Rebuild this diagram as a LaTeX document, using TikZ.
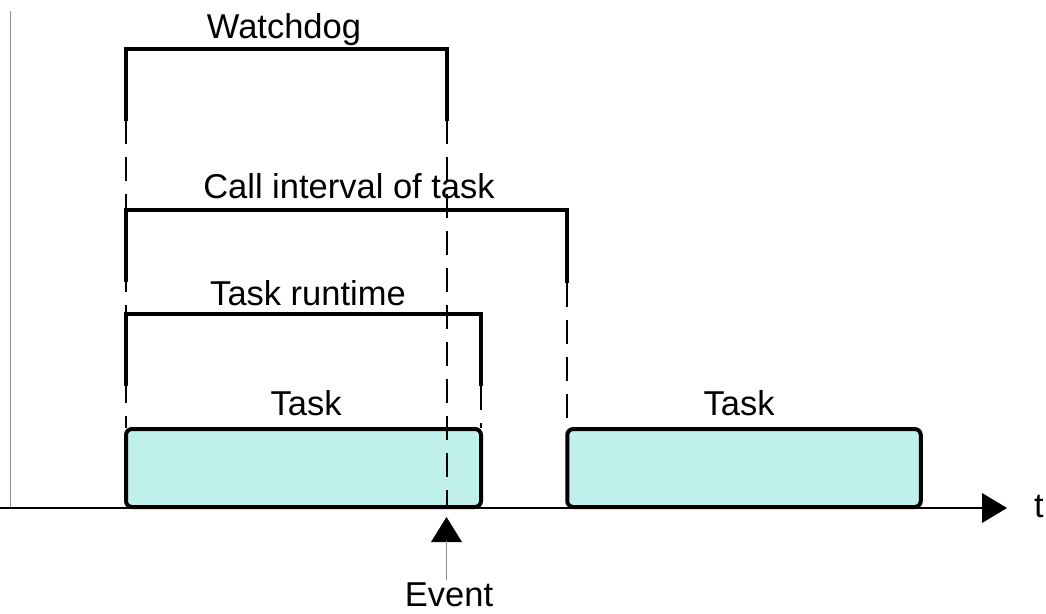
\documentclass[tikz,border=0pt]{standalone}
\usepackage{fontspec}
\setmainfont{Liberation Sans}
\definecolor{taskfill}{HTML}{C0F0EC}
\definecolor{axisgray}{HTML}{8C8C8C}
\tikzset{
  bracket/.style={line width=4.8pt, line cap=butt, line join=miter},
  guide/.style={line width=2.2pt, dash pattern=on 24pt off 13pt},
  taskbox/.style={draw, line width=4pt, rounded corners=6pt, fill=taskfill, inner sep=0pt},
  lbl/.style={font=\fontsize{34.5}{40}\selectfont, anchor=base, inner sep=0pt},
  tri/.style={fill=black}
}
\begin{document}
\begin{tikzpicture}[x=1pt,y=-1pt]
\useasboundingbox (0,0) rectangle (1046,613);
% axes
\coordinate (ytop) at (10,11);
\coordinate (orig) at (10,508);
\coordinate (xleft) at (0,508);
\coordinate (xend) at (984,508);
\draw[axisgray, line width=1pt] (ytop) -- (orig);
\draw[black, line width=1.3pt] (xleft) -- (xend);
\fill[tri] (982,493) -- (1007,508) -- (982,523) -- cycle;
\node[lbl] (t) at (1039,517) {t};

% task boxes
\node[taskbox, minimum width=355pt, minimum height=78pt] (task1) at (303.5,468) {};
\node[taskbox, minimum width=353.5pt, minimum height=78pt] (task2) at (744,468) {};
\node[lbl] (tl1) at (306,415) {Task};
\node[lbl] (tl2) at (739,415) {Task};

% guide coordinates
\coordinate (wL) at (126,49);
\coordinate (wR) at (447,49);
\coordinate (cL) at (126,210);
\coordinate (cR) at (567,210);
\coordinate (rL) at (126,314);
\coordinate (rR) at (481,314);

% dashed guides
\draw[guide] (126,120) -- (126,428);
\draw[guide] (447,120) -- (447,508);
\draw[guide] (567,283) -- (567,428);
\draw[guide] (481,386) -- (481,428);

% brackets
\draw[bracket] (126,121) -- (wL) -- (wR) -- (447,121);
\draw[bracket] (126,282) -- (cL) -- (cR) -- (567,283);
\draw[bracket] (126,386) -- (rL) -- (rR) -- (481,386);

\node[lbl] (wlab) at (284,38) {Watchdog};
\node[lbl] (clab) at (349,198) {Call interval of task};
\node[lbl] (rlab) at (308,305) {Task runtime};

% event
\fill[tri] (431,542) -- (446.5,517) -- (462,542) -- cycle;
\coordinate (evtop) at (446.5,541);
\node[lbl] (ev) at (449,606) {Event};
\draw[axisgray, line width=1pt] (evtop) -- (446.5,580);
\end{tikzpicture}
\end{document}
